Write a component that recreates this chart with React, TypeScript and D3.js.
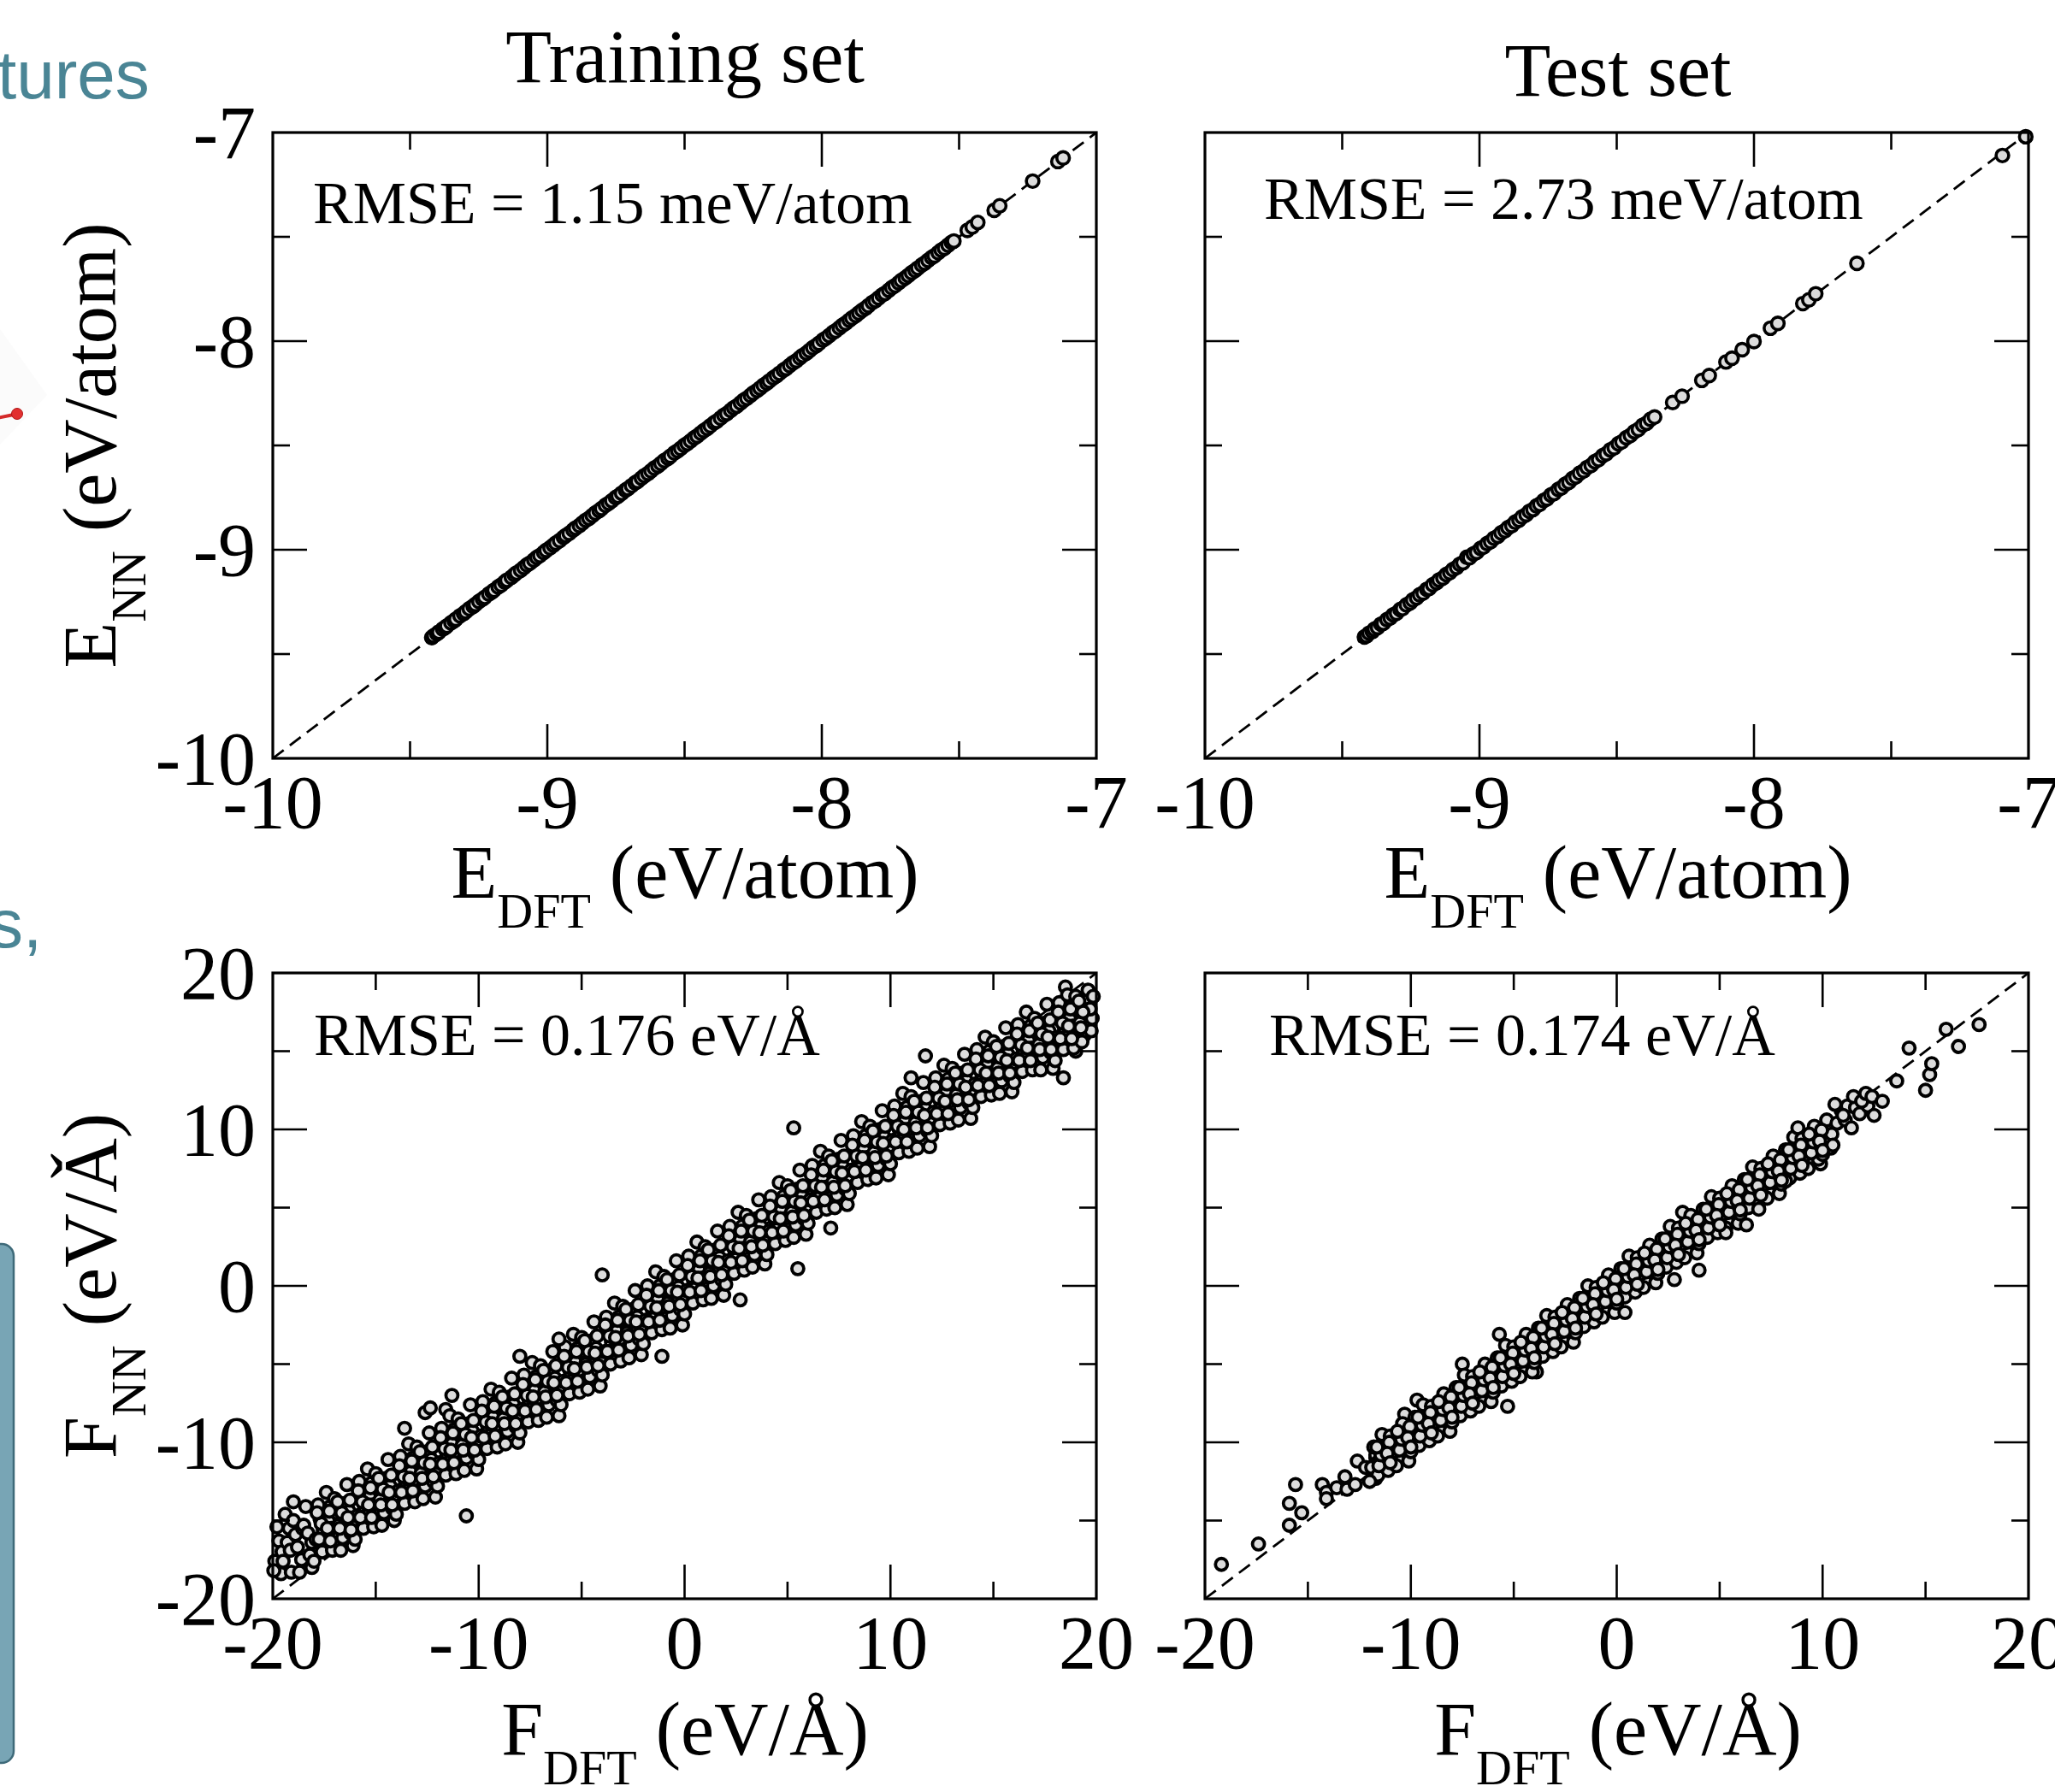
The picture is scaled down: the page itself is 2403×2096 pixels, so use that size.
import React from "react";
import * as d3 from "d3";

const W = 2403;
const H = 2096;

// ---------------- data ----------------
const trainEnergy: [number, number][] = [
  [-9.421,-9.421],[-9.414,-9.413],[-9.402,-9.403],[-9.395,-9.395],[-9.381,-9.380],[-9.372,-9.373],[-9.366,-9.366],[-9.351,-9.350],
  [-9.339,-9.340],[-9.333,-9.333],[-9.318,-9.317],[-9.305,-9.306],[-9.297,-9.297],[-9.284,-9.283],[-9.270,-9.271],[-9.262,-9.262],
  [-9.249,-9.248],[-9.236,-9.237],[-9.228,-9.228],[-9.213,-9.212],[-9.201,-9.202],[-9.194,-9.194],[-9.179,-9.178],[-9.168,-9.169],
  [-9.155,-9.155],[-9.147,-9.146],[-9.131,-9.132],[-9.120,-9.120],[-9.112,-9.111],[-9.097,-9.098],[-9.085,-9.085],[-9.074,-9.073],
  [-9.063,-9.064],[-9.049,-9.049],[-9.038,-9.037],[-9.027,-9.028],[-9.013,-9.013],[-9.004,-9.003],[-8.990,-8.991],[-8.978,-8.978],
  [-8.969,-8.968],[-8.955,-8.956],[-8.941,-8.941],[-8.933,-8.932],[-8.920,-8.921],[-8.906,-8.906],[-8.897,-8.896],[-8.883,-8.884],
  [-8.872,-8.872],[-8.860,-8.859],[-8.848,-8.849],[-8.836,-8.836],[-8.825,-8.824],[-8.811,-8.812],[-8.802,-8.802],[-8.788,-8.787],
  [-8.776,-8.777],[-8.765,-8.765],[-8.751,-8.750],[-8.742,-8.743],[-8.729,-8.729],[-8.715,-8.714],[-8.706,-8.707],[-8.693,-8.693],
  [-8.680,-8.679],[-8.671,-8.672],[-8.657,-8.657],[-8.646,-8.645],[-8.633,-8.634],[-8.622,-8.622],[-8.610,-8.609],[-8.597,-8.598],
  [-8.586,-8.586],[-8.574,-8.573],[-8.560,-8.561],[-8.551,-8.551],[-8.537,-8.536],[-8.525,-8.526],[-8.514,-8.514],[-8.501,-8.500],
  [-8.490,-8.491],[-8.478,-8.478],[-8.465,-8.464],[-8.454,-8.455],[-8.441,-8.441],[-8.430,-8.429],[-8.417,-8.418],[-8.406,-8.406],
  [-8.392,-8.391],[-8.383,-8.384],[-8.369,-8.369],[-8.357,-8.356],[-8.346,-8.347],[-8.332,-8.332],[-8.321,-8.320],[-8.310,-8.311],
  [-8.296,-8.296],[-8.285,-8.284],[-8.273,-8.274],[-8.260,-8.260],[-8.250,-8.249],[-8.236,-8.237],[-8.225,-8.225],[-8.213,-8.212],
  [-8.200,-8.201],[-8.191,-8.191],[-8.177,-8.176],[-8.165,-8.166],[-8.154,-8.154],[-8.140,-8.139],[-8.130,-8.131],[-8.117,-8.117],
  [-8.105,-8.104],[-8.093,-8.094],[-8.080,-8.080],[-8.070,-8.069],[-8.056,-8.057],[-8.045,-8.045],[-8.033,-8.032],[-8.020,-8.021],
  [-8.010,-8.010],[-7.996,-7.995],[-7.985,-7.986],[-7.973,-7.973],[-7.960,-7.959],[-7.950,-7.951],[-7.936,-7.936],[-7.925,-7.924],
  [-7.913,-7.914],[-7.900,-7.900],[-7.890,-7.889],[-7.876,-7.877],[-7.865,-7.865],[-7.853,-7.852],[-7.840,-7.841],[-7.830,-7.830],
  [-7.816,-7.815],[-7.805,-7.806],[-7.793,-7.793],[-7.780,-7.779],[-7.770,-7.771],[-7.756,-7.756],[-7.745,-7.744],[-7.733,-7.734],
  [-7.720,-7.720],[-7.710,-7.709],[-7.696,-7.697],[-7.685,-7.685],[-7.673,-7.672],[-7.660,-7.661],[-7.650,-7.650],[-7.636,-7.635],
  [-7.625,-7.626],[-7.613,-7.613],[-7.600,-7.599],[-7.590,-7.591],[-7.576,-7.576],[-7.565,-7.564],[-7.553,-7.554],[-7.540,-7.540],
  [-7.528,-7.527],[-7.519,-7.520],
  [-7.470,-7.469],[-7.452,-7.453],[-7.432,-7.431],[-7.372,-7.373],[-7.352,-7.351],[-7.232,-7.233],[-7.140,-7.139],[-7.121,-7.122],
];

const testEnergy: [number, number][] = [
  [-9.419,-9.418],[-9.411,-9.413],[-9.402,-9.400],[-9.390,-9.392],[-9.383,-9.381],[-9.371,-9.373],[-9.359,-9.357],[-9.350,-9.352],
  [-9.337,-9.335],[-9.325,-9.327],[-9.314,-9.312],[-9.302,-9.304],[-9.289,-9.287],[-9.280,-9.282],[-9.266,-9.264],[-9.252,-9.254],
  [-9.243,-9.241],[-9.229,-9.231],[-9.218,-9.216],[-9.205,-9.207],[-9.192,-9.190],[-9.183,-9.185],[-9.170,-9.168],[-9.156,-9.158],
  [-9.147,-9.145],[-9.133,-9.135],[-9.121,-9.119],[-9.108,-9.110],[-9.097,-9.095],[-9.083,-9.085],[-9.072,-9.070],[-9.060,-9.062],
  [-9.046,-9.036],[-9.036,-9.038],[-9.022,-9.020],[-9.010,-9.012],[-8.996,-8.994],[-8.985,-8.987],[-8.972,-8.970],[-8.959,-8.961],
  [-8.947,-8.945],[-8.933,-8.935],[-8.921,-8.919],[-8.907,-8.909],[-8.896,-8.894],[-8.882,-8.884],[-8.870,-8.868],[-8.856,-8.858],
  [-8.845,-8.843],[-8.830,-8.832],[-8.818,-8.816],[-8.805,-8.807],[-8.792,-8.790],[-8.780,-8.782],[-8.766,-8.764],[-8.754,-8.756],
  [-8.740,-8.738],[-8.728,-8.730],[-8.713,-8.711],[-8.701,-8.703],[-8.688,-8.686],[-8.674,-8.676],[-8.661,-8.659],[-8.648,-8.650],
  [-8.635,-8.633],[-8.620,-8.622],[-8.608,-8.606],[-8.593,-8.595],[-8.580,-8.578],[-8.566,-8.568],[-8.551,-8.549],[-8.538,-8.540],
  [-8.523,-8.521],[-8.509,-8.511],[-8.494,-8.492],[-8.481,-8.483],[-8.465,-8.463],[-8.450,-8.452],[-8.436,-8.434],[-8.421,-8.423],
  [-8.405,-8.403],[-8.391,-8.393],[-8.377,-8.375],[-8.362,-8.364],
  [-8.296,-8.294],[-8.262,-8.264],[-8.190,-8.188],[-8.163,-8.165],[-8.102,-8.100],[-8.080,-8.082],[-8.043,-8.041],[-8.000,-8.002],
  [-7.940,-7.938],[-7.913,-7.915],[-7.822,-7.820],[-7.800,-7.802],[-7.775,-7.773],[-7.625,-7.627],[-7.095,-7.110],[-7.010,-7.020],
];

const trainForce: [number, number][] = [
  [-19.9,-17.6],[-19.7,-16.3],[-19.6,-18.4],[-19.8,-15.4],[-19.55,-17.0],[-19.95,-18.2],
  [-19.3,-16.4],[-19.5,-17.6],[-19.2,-15.5],[-19.1,-18.3],[-19.4,-14.6],[-19.15,-16.9],[-19.0,-13.8],
  [-18.6,-17.5],[-18.9,-15.9],[-18.8,-16.7],[-19.0,-15.0],[-18.7,-18.3],[-18.55,-15.5],
  [-18.5,-15.3],[-18.1,-16.4],[-18.4,-14.1],[-18.2,-17.2],[-18.3,-15.8],[-18.1,-18.0],
  [-17.9,-16.2],[-17.7,-14.9],[-17.6,-17.0],[-17.8,-14.0],[-17.55,-15.6],[-18.0,-17.6],
  [-17.3,-15.0],[-17.5,-16.2],[-17.2,-14.1],[-17.1,-16.9],[-17.4,-13.2],[-17.15,-15.5],
  [-16.6,-16.1],[-16.9,-14.5],[-16.8,-15.3],[-17.0,-13.6],[-16.7,-16.9],[-16.55,-14.1],
  [-16.5,-13.9],[-16.1,-15.0],[-16.4,-12.7],[-16.2,-15.8],[-16.3,-14.4],[-16.1,-16.6],
  [-15.9,-14.7],[-15.7,-13.4],[-15.6,-15.5],[-15.8,-12.5],[-15.55,-14.1],[-16.0,-16.2],
  [-15.3,-13.5],[-15.5,-14.7],[-15.2,-12.6],[-15.1,-15.4],[-15.4,-11.7],[-15.15,-14.0],
  [-14.6,-14.5],[-14.9,-12.9],[-14.8,-13.7],[-15.0,-12.0],[-14.7,-15.3],[-14.55,-12.5],
  [-14.5,-12.3],[-14.1,-13.4],[-14.4,-11.1],[-14.2,-14.2],[-14.3,-12.8],[-14.1,-15.0],
  [-13.9,-13.1],[-13.7,-11.8],[-13.6,-13.9],[-13.8,-10.9],[-13.55,-12.5],[-14.0,-14.6],[-13.6,-9.1],
  [-13.3,-11.9],[-13.5,-13.1],[-13.2,-11.0],[-13.1,-13.8],[-13.4,-10.1],[-13.15,-12.4],
  [-12.6,-12.8],[-12.9,-11.2],[-12.8,-12.0],[-13.0,-10.3],[-12.7,-13.6],[-12.55,-10.8],
  [-12.6,-8.1],[-12.35,-7.8],[-11.6,-7.9],[-11.3,-7.0],
  [-12.5,-10.6],[-12.1,-11.7],[-12.4,-9.4],[-12.2,-12.5],[-12.3,-11.1],[-12.1,-13.5],
  [-11.9,-11.3],[-11.7,-10.0],[-11.6,-12.1],[-11.8,-9.1],[-11.55,-10.7],[-12.0,-12.8],
  [-11.3,-10.1],[-11.5,-11.3],[-11.2,-9.2],[-11.1,-12.0],[-11.4,-8.3],[-11.15,-10.6],
  [-10.6,-11.0],[-10.9,-9.4],[-10.8,-10.2],[-11.0,-8.5],[-10.7,-11.8],[-10.55,-9.0],[-10.6,-14.7],
  [-10.5,-8.8],[-10.1,-9.9],[-10.4,-7.6],[-10.2,-10.7],[-10.3,-9.3],[-10.1,-11.7],
  [-9.9,-9.6],[-9.7,-8.3],[-9.6,-10.4],[-9.8,-7.4],[-9.55,-9.0],[-10.0,-11.1],
  [-9.3,-8.4],[-9.5,-9.6],[-9.2,-7.5],[-9.1,-10.3],[-9.4,-6.6],[-9.15,-8.9],
  [-8.6,-9.3],[-8.9,-7.7],[-8.8,-8.5],[-9.0,-6.8],[-8.7,-10.1],[-8.55,-7.3],
  [-8.5,-7.1],[-8.1,-8.2],[-8.4,-5.9],[-8.2,-9.0],[-8.3,-7.6],[-8.1,-10.0],[-8.0,-4.5],
  [-7.9,-7.9],[-7.7,-6.6],[-7.6,-8.7],[-7.8,-5.7],[-7.55,-7.3],[-8.0,-9.4],
  [-7.3,-6.7],[-7.5,-7.9],[-7.2,-5.8],[-7.1,-8.6],[-7.4,-4.9],[-7.15,-7.2],
  [-6.6,-7.6],[-6.9,-6.0],[-6.8,-6.8],[-7.0,-5.1],[-6.7,-8.4],[-6.55,-5.6],
  [-6.5,-5.4],[-6.1,-6.5],[-6.4,-4.2],[-6.2,-7.3],[-6.3,-5.9],[-6.1,-8.3],
  [-5.9,-6.1],[-5.7,-4.8],[-5.6,-6.9],[-5.8,-3.9],[-5.55,-5.5],[-6.0,-7.6],[-6.1,-3.4],
  [-5.3,-4.9],[-5.5,-6.1],[-5.2,-4.0],[-5.1,-6.8],[-5.4,-3.1],[-5.15,-5.4],
  [-4.6,-5.8],[-4.9,-4.2],[-4.8,-5.0],[-5.0,-3.3],[-4.7,-6.6],[-4.55,-3.8],
  [-4.5,-3.5],[-4.1,-4.6],[-4.4,-2.3],[-4.2,-5.4],[-4.3,-4.0],[-4.1,-6.4],[-4.0,0.7],
  [-3.9,-4.2],[-3.7,-2.9],[-3.6,-5.0],[-3.8,-2.0],[-3.55,-3.6],[-4.0,-5.7],
  [-3.3,-2.9],[-3.5,-4.1],[-3.2,-2.0],[-3.1,-4.8],[-3.4,-1.1],[-3.15,-3.4],
  [-2.6,-3.8],[-2.9,-2.2],[-2.8,-3.0],[-3.0,-1.3],[-2.7,-4.6],[-2.55,-1.8],
  [-2.5,-1.5],[-2.1,-2.6],[-2.4,-0.3],[-2.2,-3.4],[-2.3,-2.0],[-2.1,-4.4],
  [-1.9,-2.2],[-1.7,-0.9],[-1.6,-3.0],[-1.8,0.0],[-1.55,-1.6],[-2.0,-3.7],
  [-1.3,-0.9],[-1.5,-2.1],[-1.2,0.0],[-1.1,-2.8],[-1.4,0.9],[-1.15,-1.4],[-1.1,-4.5],
  [-0.6,-1.9],[-0.9,-0.3],[-0.8,-1.1],[-1.0,0.6],[-0.7,-2.7],[-0.55,0.1],
  [-0.5,0.4],[-0.1,-0.7],[-0.4,1.6],[-0.2,-1.5],[-0.3,-0.1],[-0.1,-2.5],
  [0.1,-0.3],[0.3,1.0],[0.4,-1.1],[0.2,1.9],[0.45,0.3],[0.0,-1.8],
  [0.7,1.0],[0.5,-0.2],[0.8,1.9],[0.9,-0.9],[0.6,2.8],[0.85,0.5],
  [1.4,0.0],[1.1,1.6],[1.2,0.8],[1.0,2.5],[1.3,-0.8],[1.45,2.0],
  [1.5,2.3],[1.9,1.2],[1.6,3.5],[1.8,0.4],[1.7,1.8],[1.9,-0.6],
  [2.1,1.6],[2.3,2.9],[2.4,0.8],[2.2,3.8],[2.45,2.2],[2.0,0.1],
  [2.7,2.9],[2.5,1.7],[2.8,3.8],[2.9,1.0],[2.6,4.7],[2.85,2.4],[2.7,-0.9],
  [3.4,2.0],[3.1,3.6],[3.2,2.8],[3.0,4.5],[3.3,1.2],[3.45,4.0],
  [3.5,4.3],[3.9,3.2],[3.6,5.5],[3.8,2.4],[3.7,3.8],[3.9,1.4],
  [4.1,3.5],[4.3,4.8],[4.4,2.7],[4.2,5.7],[4.45,4.1],[4.0,2.0],
  [4.7,4.8],[4.5,3.6],[4.8,5.7],[4.9,2.9],[4.6,6.6],[4.85,4.3],
  [5.4,3.9],[5.1,5.5],[5.2,4.7],[5.0,6.4],[5.3,3.1],[5.45,5.9],[5.3,10.1],[5.5,1.1],
  [5.5,6.2],[5.9,5.1],[5.6,7.4],[5.8,4.3],[5.7,5.7],[5.9,3.3],
  [6.1,5.5],[6.3,6.8],[6.4,4.7],[6.2,7.7],[6.45,6.1],[6.0,4.0],
  [6.7,6.8],[6.5,5.6],[6.8,7.7],[6.9,4.9],[6.6,8.6],[6.85,6.3],
  [7.4,5.8],[7.1,7.4],[7.2,6.6],[7.0,8.3],[7.3,5.0],[7.45,7.8],[7.1,3.7],
  [7.5,8.1],[7.9,7.0],[7.6,9.3],[7.8,6.2],[7.7,7.6],[7.9,5.2],
  [8.1,7.4],[8.3,8.7],[8.4,6.6],[8.2,9.6],[8.45,8.0],[8.0,5.9],
  [8.7,8.7],[8.5,7.5],[8.8,9.6],[8.9,6.8],[8.6,10.5],[8.85,8.2],
  [9.4,7.7],[9.1,9.3],[9.2,8.5],[9.0,10.2],[9.3,6.9],[9.45,9.7],
  [9.5,10.0],[9.9,8.9],[9.6,11.2],[9.8,8.1],[9.7,9.5],[9.9,7.1],
  [10.1,9.3],[10.3,10.6],[10.4,8.5],[10.2,11.5],[10.45,9.9],[10.0,7.8],
  [10.7,10.5],[10.5,9.3],[10.8,11.4],[10.9,8.6],[10.6,12.3],[10.85,10.0],
  [11.4,9.6],[11.1,11.2],[11.2,10.4],[11.0,12.1],[11.3,8.8],[11.45,11.6],[11.0,13.3],[11.7,14.7],
  [11.5,11.8],[11.9,10.7],[11.6,13.0],[11.8,9.9],[11.7,11.3],[11.9,8.9],
  [12.1,11.1],[12.3,12.4],[12.4,10.3],[12.2,13.3],[12.45,11.7],[12.0,9.6],
  [12.7,12.3],[12.5,11.1],[12.8,13.2],[12.9,10.4],[12.6,14.1],[12.85,11.8],
  [13.4,11.4],[13.1,13.0],[13.2,12.2],[13.0,13.9],[13.3,10.6],[13.45,13.4],
  [13.5,13.6],[13.9,12.5],[13.6,14.8],[13.8,11.7],[13.7,13.1],[13.9,10.7],
  [14.1,12.9],[14.3,14.2],[14.4,12.1],[14.2,15.1],[14.45,13.5],[14.0,11.4],
  [14.7,14.1],[14.5,12.9],[14.8,15.0],[14.9,12.2],[14.6,15.9],[14.85,13.6],
  [15.4,13.1],[15.1,14.7],[15.2,13.9],[15.0,15.6],[15.3,12.3],[15.45,15.1],
  [15.5,15.3],[15.9,14.2],[15.6,16.5],[15.8,13.4],[15.7,14.8],[15.9,12.4],
  [16.1,14.5],[16.3,15.8],[16.4,13.7],[16.2,16.7],[16.45,15.1],[16.0,13.0],
  [16.7,15.7],[16.5,14.5],[16.8,16.6],[16.9,13.8],[16.6,17.5],[16.85,15.2],
  [17.4,14.6],[17.1,16.2],[17.2,15.4],[17.0,17.1],[17.3,13.8],[17.45,16.6],
  [17.5,16.8],[17.9,15.7],[17.6,18.0],[17.8,14.9],[17.7,16.3],[17.9,13.9],
  [18.1,15.9],[18.3,17.2],[18.4,15.1],[18.2,18.1],[18.45,16.5],[18.0,14.4],[18.4,13.3],[18.5,19.1],[19.0,15.0],
  [18.7,17.1],[18.5,15.9],[18.8,18.0],[18.9,15.2],[18.6,18.6],[18.85,16.6],
  [19.4,16.0],[19.1,17.6],[19.2,16.8],[19.0,18.5],[19.3,15.6],[19.45,18.0],
  [19.5,18.2],[19.8,17.1],[19.6,18.9],[19.75,16.3],[19.7,17.7],[19.85,18.5],
  // denser core of the band
  [-17.75,-16.2],[-17.65,-15.2],[-17.85,-14.5],[-17.25,-14.4],[-17.35,-15.5],[-17.2,-16.3],
  [-16.75,-15.5],[-16.65,-14.5],[-16.85,-13.8],[-16.25,-13.7],[-16.35,-14.8],[-16.2,-15.6],
  [-15.75,-14.8],[-15.65,-13.8],[-15.85,-13.1],[-15.25,-12.9],[-15.35,-14.0],[-15.2,-14.8],
  [-14.75,-14.0],[-14.65,-13.0],[-14.85,-12.3],[-14.25,-12.1],[-14.35,-13.2],[-14.2,-14.0],
  [-13.75,-13.2],[-13.65,-12.2],[-13.85,-11.5],[-13.25,-11.2],[-13.35,-12.3],[-13.2,-13.1],
  [-12.75,-12.3],[-12.65,-11.3],[-12.85,-10.6],[-12.25,-10.3],[-12.35,-11.4],[-12.2,-12.2],
  [-11.75,-11.4],[-11.65,-10.4],[-11.85,-9.7],[-11.25,-9.4],[-11.35,-10.5],[-11.2,-11.3],
  [-10.75,-10.5],[-10.65,-9.5],[-10.85,-8.8],[-10.25,-8.6],[-10.35,-9.7],[-10.2,-10.5],
  [-9.75,-9.7],[-9.65,-8.7],[-9.85,-8.0],[-9.25,-7.7],[-9.35,-8.8],[-9.2,-9.6],
  [-8.75,-8.8],[-8.65,-7.8],[-8.85,-7.1],[-8.25,-6.9],[-8.35,-8.0],[-8.2,-8.8],
  [-7.75,-8.0],[-7.65,-7.0],[-7.85,-6.3],[-7.25,-6.0],[-7.35,-7.1],[-7.2,-7.9],
  [-6.75,-7.1],[-6.65,-6.1],[-6.85,-5.4],[-6.25,-5.1],[-6.35,-6.2],[-6.2,-7.0],
  [-5.75,-6.2],[-5.65,-5.2],[-5.85,-4.5],[-5.25,-4.2],[-5.35,-5.3],[-5.2,-6.1],
  [-4.75,-5.2],[-4.65,-4.2],[-4.85,-3.5],[-4.25,-3.2],[-4.35,-4.3],[-4.2,-5.1],
  [-3.75,-4.2],[-3.65,-3.2],[-3.85,-2.5],[-3.25,-2.2],[-3.35,-3.3],[-3.2,-4.1],
  [-2.75,-3.2],[-2.65,-2.2],[-2.85,-1.5],[-2.25,-1.2],[-2.35,-2.3],[-2.2,-3.1],
  [-1.75,-2.3],[-1.65,-1.3],[-1.85,-0.6],[-1.25,-0.3],[-1.35,-1.4],[-1.2,-2.2],
  [-0.75,-1.3],[-0.65,-0.3],[-0.85,0.4],[-0.25,0.7],[-0.35,-0.4],[-0.2,-1.2],
  [0.25,-0.4],[0.35,0.6],[0.15,1.3],[0.75,1.6],[0.65,0.5],[0.8,-0.3],
  [1.25,0.6],[1.35,1.6],[1.15,2.3],[1.75,2.6],[1.65,1.5],[1.8,0.7],
  [2.25,1.5],[2.35,2.5],[2.15,3.2],[2.75,3.5],[2.65,2.4],[2.8,1.6],
  [3.25,2.5],[3.35,3.5],[3.15,4.2],[3.75,4.5],[3.65,3.4],[3.8,2.6],
  [4.25,3.4],[4.35,4.4],[4.15,5.1],[4.75,5.4],[4.65,4.3],[4.8,3.5],
  [5.25,4.4],[5.35,5.4],[5.15,6.1],[5.75,6.4],[5.65,5.3],[5.8,4.5],
  [6.25,5.4],[6.35,6.4],[6.15,7.1],[6.75,7.4],[6.65,6.3],[6.8,5.5],
  [7.25,6.3],[7.35,7.3],[7.15,8.0],[7.75,8.3],[7.65,7.2],[7.8,6.4],
  [8.25,7.3],[8.35,8.3],[8.15,9.0],[8.75,9.3],[8.65,8.2],[8.8,7.4],
  [9.25,8.2],[9.35,9.2],[9.15,9.9],[9.75,10.2],[9.65,9.1],[9.8,8.3],
  [10.25,9.2],[10.35,10.2],[10.15,10.9],[10.75,11.1],[10.65,10.0],[10.8,9.2],
  [11.25,10.1],[11.35,11.1],[11.15,11.8],[11.75,12.0],[11.65,10.9],[11.8,10.1],
  [12.25,11.0],[12.35,12.0],[12.15,12.7],[12.75,12.9],[12.65,11.8],[12.8,11.0],
  [13.25,11.9],[13.35,12.9],[13.15,13.6],[13.75,13.8],[13.65,12.7],[13.8,11.9],
  [14.25,12.8],[14.35,13.8],[14.15,14.5],[14.75,14.7],[14.65,13.6],[14.8,12.8],
  [15.25,13.6],[15.35,14.6],[15.15,15.3],[15.75,15.5],[15.65,14.4],[15.8,13.6],
  [16.25,14.4],[16.35,15.4],[16.15,16.1],[16.75,16.3],[16.65,15.2],[16.8,14.4],
  [17.25,15.1],[17.35,16.1],[17.15,16.8],[17.75,17.0],[17.65,15.9],[17.8,15.1],
  [18.25,15.8],[18.35,16.8],[18.15,17.5],[18.75,17.7],[18.65,16.6],[18.8,15.8],
  [19.25,16.5],[19.35,17.5],[19.15,18.2],
];

const testForce: [number, number][] = [
  [-19.2,-17.8],[-17.4,-16.5],[-15.9,-15.3],[-15.9,-13.9],[-15.6,-12.7],[-15.3,-14.5],
  [-14.3,-12.7],[-14.1,-13.2],[-14.1,-13.6],[-13.6,-12.9],[-13.2,-12.2],[-13.1,-13.0],
  [-12.7,-12.7],[-12.6,-11.2],[-12.2,-11.6],[-11.7,-11.0],[-11.7,-12.3],[-11.2,-10.2],
  [-10.3,-8.2],[-9.7,-7.3],[-7.5,-5.0],[-5.7,-3.1],[-5.3,-7.7],[-3.9,-5.5],
  [-11.9,-11.6],[-11.7,-10.8],[-11.6,-12.1],[-11.8,-10.3],[-11.55,-11.2],[-12.0,-12.5],
  [-11.3,-10.6],[-11.5,-11.3],[-11.2,-10.1],[-11.1,-11.8],[-11.4,-9.5],[-11.15,-10.9],
  [-10.6,-11.1],[-10.9,-10.1],[-10.8,-10.6],[-11.0,-9.6],[-10.7,-11.5],[-10.55,-9.9],
  [-10.5,-9.5],[-10.1,-10.1],[-10.4,-8.8],[-10.2,-10.6],[-10.3,-9.8],[-10.1,-11.2],
  [-9.9,-9.7],[-9.7,-8.9],[-9.6,-10.2],[-9.8,-8.4],[-9.55,-9.3],[-10.0,-10.6],
  [-9.3,-8.7],[-9.5,-9.4],[-9.2,-8.2],[-9.1,-9.9],[-9.4,-7.6],[-9.15,-9.0],
  [-8.6,-9.2],[-8.9,-8.2],[-8.8,-8.7],[-9.0,-7.7],[-8.7,-9.6],[-8.55,-8.0],
  [-8.5,-7.6],[-8.1,-8.2],[-8.4,-6.9],[-8.2,-8.7],[-8.3,-7.9],[-8.1,-9.3],
  [-7.9,-7.8],[-7.7,-7.0],[-7.6,-8.3],[-7.8,-6.5],[-7.55,-7.4],[-8.0,-8.7],
  [-7.3,-6.8],[-7.5,-7.5],[-7.2,-6.3],[-7.1,-8.0],[-7.4,-5.7],[-7.15,-7.1],
  [-6.6,-7.3],[-6.9,-6.3],[-6.8,-6.8],[-7.0,-5.8],[-6.7,-7.7],[-6.55,-6.1],
  [-6.5,-5.7],[-6.1,-6.3],[-6.4,-5.0],[-6.2,-6.8],[-6.3,-6.0],[-6.1,-7.4],
  [-5.9,-5.9],[-5.7,-5.1],[-5.6,-6.4],[-5.8,-4.6],[-5.55,-5.5],[-6.0,-6.8],
  [-5.3,-4.9],[-5.5,-5.6],[-5.2,-4.4],[-5.1,-6.1],[-5.4,-3.8],[-5.15,-5.2],
  [-4.6,-5.4],[-4.9,-4.4],[-4.8,-4.9],[-5.0,-3.9],[-4.7,-5.8],[-4.55,-4.2],
  [-4.5,-3.8],[-4.1,-4.4],[-4.4,-3.1],[-4.2,-4.9],[-4.3,-4.1],[-4.1,-5.5],
  [-3.9,-4.0],[-3.7,-3.2],[-3.6,-4.5],[-3.8,-2.7],[-3.55,-3.6],[-4.0,-4.9],
  [-3.3,-3.0],[-3.5,-3.7],[-3.2,-2.5],[-3.1,-4.2],[-3.4,-1.9],[-3.15,-3.3],
  [-2.6,-3.5],[-2.9,-2.5],[-2.8,-3.0],[-3.0,-2.0],[-2.7,-3.9],[-2.55,-2.3],
  [-2.5,-1.9],[-2.1,-2.5],[-2.4,-1.2],[-2.2,-3.0],[-2.3,-2.2],[-2.1,-3.6],
  [-1.9,-2.1],[-1.7,-1.3],[-1.6,-2.6],[-1.8,-0.8],[-1.55,-1.7],[-2.0,-3.0],
  [-1.3,-1.1],[-1.5,-1.8],[-1.2,-0.6],[-1.1,-2.3],[-1.4,0.0],[-1.15,-1.4],
  [-0.6,-1.6],[-0.9,-0.6],[-0.8,-1.1],[-1.0,-0.1],[-0.7,-2.0],[-0.55,-0.4],
  [-0.5,0.0],[-0.1,-0.6],[-0.4,0.7],[-0.2,-1.1],[-0.3,-0.3],[-0.1,-1.7],
  [0.1,-0.2],[0.3,0.6],[0.4,-0.7],[0.2,1.1],[0.45,0.2],[0.0,-1.1],[0.4,-1.7],
  [0.7,0.8],[0.5,0.1],[0.8,1.3],[0.9,-0.4],[0.6,1.9],[0.85,0.5],
  [1.4,0.3],[1.1,1.3],[1.2,0.8],[1.0,1.8],[1.3,-0.1],[1.45,1.5],
  [1.5,1.9],[1.9,1.3],[1.6,2.6],[1.8,0.8],[1.7,1.6],[1.9,0.2],
  [2.1,1.7],[2.3,2.5],[2.4,1.2],[2.2,3.0],[2.45,2.1],[2.0,0.8],[2.8,0.4],
  [2.7,2.7],[2.5,2.0],[2.8,3.2],[2.9,1.5],[2.6,3.8],[2.85,2.4],
  [3.4,2.2],[3.1,3.2],[3.2,2.7],[3.0,3.7],[3.3,1.8],[3.45,3.4],[3.2,4.7],
  [3.5,3.8],[3.9,3.2],[3.6,4.5],[3.8,2.7],[3.7,3.5],[3.9,2.1],[4.0,1.0],
  [4.1,3.6],[4.3,4.4],[4.4,3.1],[4.2,4.9],[4.45,4.0],[4.0,2.7],
  [4.7,4.6],[4.5,3.9],[4.8,5.1],[4.9,3.4],[4.6,5.7],[4.85,4.3],
  [5.4,4.1],[5.1,5.1],[5.2,4.6],[5.0,5.6],[5.3,3.7],[5.45,5.3],[5.3,3.4],
  [5.5,5.7],[5.9,5.1],[5.6,6.4],[5.8,4.6],[5.7,5.4],[5.9,4.0],
  [6.1,5.5],[6.3,6.3],[6.4,5.0],[6.2,6.8],[6.45,5.9],[6.0,4.6],[6.3,3.9],
  [6.7,6.5],[6.5,5.8],[6.8,7.0],[6.9,5.3],[6.6,7.6],[6.85,6.2],[6.9,4.9],
  [7.4,6.0],[7.1,7.0],[7.2,6.5],[7.0,7.5],[7.3,5.6],[7.45,7.2],
  [7.5,7.6],[7.9,7.0],[7.6,8.3],[7.8,6.5],[7.7,7.3],[7.9,5.9],
  [8.1,7.4],[8.3,8.2],[8.4,6.9],[8.2,8.7],[8.45,7.8],[8.0,6.5],[8.2,6.7],
  [8.7,8.4],[8.5,7.7],[8.8,8.9],[8.9,7.2],[8.6,9.5],[8.85,8.1],[8.8,10.1],
  [9.4,7.9],[9.1,8.9],[9.2,8.4],[9.0,9.4],[9.3,7.5],[9.45,9.1],
  [9.5,9.5],[9.9,8.9],[9.6,10.2],[9.8,8.4],[9.7,9.2],[9.9,7.8],[9.8,8.1],
  [10.1,9.3],[10.3,10.1],[10.4,8.8],[10.2,10.6],[10.45,9.7],[10.0,8.4],[10.5,9.0],
  [10.7,10.4],[10.9,11.2],[11.2,11.5],[11.1,10.6],[11.6,11.4],[11.8,11.0],[12.2,11.5],[10.6,11.6],
  [11.0,10.9],[11.4,10.1],[11.5,12.1],[11.9,11.8],[12.1,12.3],[12.4,12.1],[12.5,10.9],[12.9,11.8],
  [13.6,13.1],[14.2,15.2],[15.0,12.5],[15.2,13.5],[15.3,14.2],[16.0,16.4],[16.6,15.3],[17.6,16.7],
  // denser core of the band
  [-11.55,-11.5],[-11.45,-10.8],[-11.65,-10.3],[-11.05,-10.0],[-11.15,-10.7],[-11.0,-11.3],
  [-10.55,-10.5],[-10.45,-9.8],[-10.65,-9.3],[-10.05,-9.0],[-10.15,-9.7],[-10.0,-10.3],
  [-9.55,-9.6],[-9.45,-8.9],[-9.65,-8.4],[-9.05,-8.1],[-9.15,-8.8],[-9.0,-9.4],
  [-8.55,-8.6],[-8.45,-7.9],[-8.65,-7.4],[-8.05,-7.1],[-8.15,-7.8],[-8.0,-8.4],
  [-7.55,-7.7],[-7.45,-7.0],[-7.65,-6.5],[-7.05,-6.2],[-7.15,-6.9],[-7.0,-7.5],
  [-6.55,-6.7],[-6.45,-6.0],[-6.65,-5.5],[-6.05,-5.2],[-6.15,-5.9],[-6.0,-6.5],
  [-5.55,-5.8],[-5.45,-5.1],[-5.65,-4.6],[-5.05,-4.3],[-5.15,-5.0],[-5.0,-5.6],
  [-4.55,-4.8],[-4.45,-4.1],[-4.65,-3.6],[-4.05,-3.3],[-4.15,-4.0],[-4.0,-4.6],
  [-3.55,-3.9],[-3.45,-3.2],[-3.65,-2.7],[-3.05,-2.4],[-3.15,-3.1],[-3.0,-3.7],
  [-2.55,-2.9],[-2.45,-2.2],[-2.65,-1.7],[-2.05,-1.4],[-2.15,-2.1],[-2.0,-2.7],
  [-1.55,-2.0],[-1.45,-1.3],[-1.65,-0.8],[-1.05,-0.5],[-1.15,-1.2],[-1.0,-1.8],
  [-0.55,-1.0],[-0.45,-0.3],[-0.65,0.2],[-0.05,0.45],[-0.15,-0.25],[0.0,-0.85],
  [0.45,-0.1],[0.55,0.6],[0.35,1.1],[0.95,1.4],[0.85,0.7],[1.0,0.1],
  [1.45,0.9],[1.55,1.6],[1.35,2.1],[1.95,2.35],[1.85,1.65],[2.0,1.05],
  [2.45,1.8],[2.55,2.5],[2.35,3.0],[2.95,3.3],[2.85,2.6],[3.0,2.0],
  [3.45,2.8],[3.55,3.5],[3.35,4.0],[3.95,4.25],[3.85,3.55],[4.0,2.95],
  [4.45,3.7],[4.55,4.4],[4.35,4.9],[4.95,5.2],[4.85,4.5],[5.0,3.9],
  [5.45,4.7],[5.55,5.4],[5.35,5.9],[5.95,6.15],[5.85,5.45],[6.0,4.85],
  [6.45,5.6],[6.55,6.3],[6.35,6.8],[6.95,7.1],[6.85,6.4],[7.0,5.8],
  [7.45,6.6],[7.55,7.3],[7.35,7.8],[7.95,8.05],[7.85,7.35],[8.0,6.75],
  [8.45,7.5],[8.55,8.2],[8.35,8.7],[8.95,9.0],[8.85,8.3],[9.0,7.7],
  [9.45,8.5],[9.55,9.2],[9.35,9.7],[9.95,9.95],[9.85,9.25],[10.0,8.65],
];

const energyDomain: [number, number] = [-10, -7];
const forceDomain: [number, number] = [-20, 20];
const energyMajor = [-10, -9, -8, -7];
const energyMinor = [-9.5, -8.5, -7.5];
const forceMajor = [-20, -10, 0, 10, 20];
const forceMinor = [-15, -5, 5, 15];
const energyTickLabels = ["-10", "-9", "-8", "-7"];
const forceTickLabels = ["-20", "-10", "0", "10", "20"];

const columnTitles = ["Training set", "Test set"];
const rmseLabels = ["RMSE = 1.15 meV/atom", "RMSE = 2.73 meV/atom", "RMSE = 0.176 eV/Å", "RMSE = 0.174 eV/Å"];

// ---------------- layout ----------------
const PW = 963;
const PH = 732;
const SERIF = "'Liberation Serif', 'Times New Roman', 'DejaVu Serif', serif";
const SANS = "'Liberation Sans', Arial, Helvetica, sans-serif";
const TEAL = "#4a8595";

type PanelSpec = {
  key: string;
  x0: number;
  y0: number;
  domain: [number, number];
  major: number[];
  minor: number[];
  labels: string[];
  data: [number, number][];
  yTickLabels: boolean;
  rmse: string;
  rmseX: number;
  rmseY: number;
  r: number;
  sw: number;
};

const panels: PanelSpec[] = [
  { key: "tl", x0: 319, y0: 155, domain: energyDomain, major: energyMajor, minor: energyMinor, labels: energyTickLabels, data: trainEnergy, yTickLabels: true, rmse: rmseLabels[0], rmseX: 366, rmseY: 261, r: 7.4, sw: 3.6 },
  { key: "tr", x0: 1409, y0: 155, domain: energyDomain, major: energyMajor, minor: energyMinor, labels: energyTickLabels, data: testEnergy, yTickLabels: false, rmse: rmseLabels[1], rmseX: 1478, rmseY: 256, r: 7.4, sw: 3.6 },
  { key: "bl", x0: 319, y0: 1138, domain: forceDomain, major: forceMajor, minor: forceMinor, labels: forceTickLabels, data: trainForce, yTickLabels: true, rmse: rmseLabels[2], rmseX: 367, rmseY: 1234, r: 7, sw: 3.8 },
  { key: "br", x0: 1409, y0: 1138, domain: forceDomain, major: forceMajor, minor: forceMinor, labels: forceTickLabels, data: testForce, yTickLabels: false, rmse: rmseLabels[3], rmseX: 1484, rmseY: 1234, r: 7, sw: 3.8 },
];

function Panel({ p }: { p: PanelSpec }) {
  const x = d3.scaleLinear().domain(p.domain).range([p.x0, p.x0 + PW]);
  const y = d3.scaleLinear().domain(p.domain).range([p.y0 + PH, p.y0]);
  const [d0, d1] = p.domain;
  const diag = d3.line<[number, number]>().x((d) => x(d[0])).y((d) => y(d[1]))([
    [d0, d0],
    [d1, d1],
  ]) as string;
  const inner = (v: number) => v !== d0 && v !== d1;
  const tickEls: React.ReactNode[] = [];
  const addTicks = (vals: number[], len: number, tag: string) => {
    vals.filter(inner).forEach((v, i) => {
      const xv = x(v);
      const yv = y(v);
      tickEls.push(<line key={`${tag}b${i}`} x1={xv} x2={xv} y1={p.y0 + PH} y2={p.y0 + PH - len} />);
      tickEls.push(<line key={`${tag}t${i}`} x1={xv} x2={xv} y1={p.y0} y2={p.y0 + len} />);
      tickEls.push(<line key={`${tag}l${i}`} x1={p.x0} x2={p.x0 + len} y1={yv} y2={yv} />);
      tickEls.push(<line key={`${tag}r${i}`} x1={p.x0 + PW} x2={p.x0 + PW - len} y1={yv} y2={yv} />);
    });
  };
  addTicks(p.major, 40, "M");
  addTicks(p.minor, 20, "m");

  return (
    <g>
      <path d={diag} fill="none" stroke="#000" strokeWidth={2.8} strokeDasharray="16 9" />
      <g fill="#dcdcdc" stroke="#000" strokeWidth={p.sw}>
        {p.data.map((d, i) => (
          <circle key={i} cx={x(d[0])} cy={y(d[1])} r={p.r} />
        ))}
      </g>
      <g stroke="#000" strokeWidth={2.6}>{tickEls}</g>
      <rect x={p.x0} y={p.y0} width={PW} height={PH} fill="none" stroke="#000" strokeWidth={3.2} />
      <g fontFamily={SERIF} fontSize={88} fill="#000">
        {p.major.map((v, i) => (
          <text key={`xl${i}`} x={x(v)} y={p.y0 + PH + 81} textAnchor="middle">
            {p.labels[i]}
          </text>
        ))}
        {p.yTickLabels &&
          p.major.map((v, i) => (
            <text key={`yl${i}`} x={p.x0 - 20} y={y(v)} dy="0.34em" textAnchor="end">
              {p.labels[i]}
            </text>
          ))}
      </g>
      <text x={p.rmseX} y={p.rmseY} fontFamily={SERIF} fontSize={70} fill="#000">
        {p.rmse}
      </text>
    </g>
  );
}

function AxisLabel({ x, y, main, sub, rest, rotate }: { x: number; y: number; main: string; sub: string; rest: string; rotate?: boolean }) {
  return (
    <text
      transform={`translate(${x},${y})${rotate ? " rotate(-90)" : ""}`}
      textAnchor="middle"
      fontFamily={SERIF}
      fontSize={88}
      fill="#000"
    >
      <tspan>{main}</tspan>
      <tspan fontSize={58} dy={35}>
        {sub}
      </tspan>
      <tspan dy={-35}>{rest}</tspan>
    </text>
  );
}

export default function App() {
  return (
    <svg
      width={W}
      height={H}
      viewBox={`0 0 ${W} ${H}`}
      style={{ position: "absolute", left: 0, top: 0, background: "#fff" }}
    >
      <rect x={0} y={0} width={W} height={H} fill="#fff" />

      {/* partial slide decorations at the left edge */}
      <text x={-3} y={115} fontFamily={SANS} fontSize={80} fill={TEAL}>
        tures
      </text>
      <text x={-13} y={1108} fontFamily={SANS} fontSize={80} fill={TEAL}>
        s,
      </text>
      <polygon points="0,385 55,462 0,520" fill="#fbfbfb" />
      <line x1={-4} y1={489} x2={16} y2={485} stroke="#d42a2a" strokeWidth={4} />
      <circle cx={20} cy={484} r={6.5} fill="#e23030" stroke="#b01818" strokeWidth={1} />
      <rect x={-40} y={1455} width={56} height={607} rx={14} fill="#78a5b5" stroke="#3e6a79" strokeWidth={2.5} />

      {/* column titles */}
      <text x={801} y={96} textAnchor="middle" fontFamily={SERIF} fontSize={88} fill="#000">
        {columnTitles[0]}
      </text>
      <text x={1892} y={112} textAnchor="middle" fontFamily={SERIF} fontSize={88} fill="#000">
        {columnTitles[1]}
      </text>

      {panels.map((p) => (
        <Panel key={p.key} p={p} />
      ))}

      {/* axis labels */}
      <AxisLabel x={135} y={521} main="E" sub="NN" rest=" (eV/atom)" rotate />
      <AxisLabel x={135} y={1504} main="F" sub="NN" rest=" (eV/Ǎ)" rotate />
      <AxisLabel x={801} y={1050} main="E" sub="DFT" rest=" (eV/atom)" />
      <AxisLabel x={1892} y={1050} main="E" sub="DFT" rest=" (eV/atom)" />
      <AxisLabel x={801} y={2052} main="F" sub="DFT" rest=" (eV/Å)" />
      <AxisLabel x={1892} y={2052} main="F" sub="DFT" rest=" (eV/Å)" />
    </svg>
  );
}
